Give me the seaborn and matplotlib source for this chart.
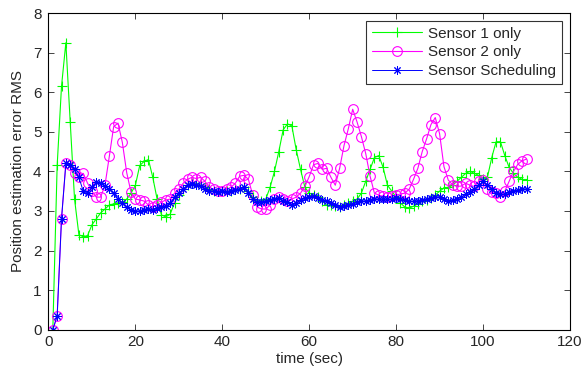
import numpy as np
import matplotlib
matplotlib.use('Agg')
import matplotlib.pyplot as plt
import seaborn as sns

# time axis (one sample per second)
time_sec = list(range(1, 111))

sensor1_only = [
    0.0, 4.15, 6.15, 7.25, 5.25, 3.3, 2.4, 2.35, 2.38, 2.65,
    2.8, 2.95, 3.05, 3.15, 3.18, 3.2, 3.22, 3.3, 3.45, 3.65,
    4.15, 4.25, 4.3, 3.85, 3.3, 2.9, 2.85, 2.92, 3.2, 3.4,
    3.55, 3.65, 3.7, 3.7, 3.65, 3.6, 3.55, 3.5, 3.5, 3.5,
    3.5, 3.5, 3.55, 3.55, 3.6, 3.5, 3.35, 3.25, 3.25, 3.3,
    3.6, 4.0, 4.5, 5.05, 5.2, 5.15, 4.55, 4.05, 3.6, 3.45,
    3.4, 3.35, 3.25, 3.15, 3.15, 3.12, 3.1, 3.15, 3.2, 3.25,
    3.3, 3.45, 3.75, 4.05, 4.35, 4.4, 4.1, 3.65, 3.5, 3.35,
    3.2, 3.1, 3.07, 3.12, 3.18, 3.25, 3.28, 3.32, 3.4, 3.5,
    3.58, 3.6, 3.65, 3.75, 3.85, 3.95, 4.0, 3.95, 3.9, 3.8,
    3.85, 4.35, 4.75, 4.75, 4.4, 4.1, 3.95, 3.85, 3.8, 3.78,
]

sensor2_only = [
    0.0, 0.35, 2.8, 4.2, 4.15, 3.95, 3.85, 3.95, 3.7, 3.5,
    3.35, 3.35, 3.65, 4.38, 5.13, 5.22, 4.73, 3.97, 3.47, 3.3,
    3.28, 3.25, 3.15, 3.1, 3.15, 3.22, 3.28, 3.3, 3.45, 3.55,
    3.7, 3.8, 3.85, 3.82, 3.85, 3.75, 3.6, 3.55, 3.5, 3.5,
    3.55, 3.6, 3.7, 3.88, 3.9, 3.8, 3.4, 3.1, 3.05, 3.05,
    3.15, 3.3, 3.35, 3.3, 3.25, 3.3, 3.35, 3.45, 3.62, 3.87,
    4.17, 4.2, 4.05, 4.08, 3.85, 3.65, 4.08, 4.65, 5.08, 5.57,
    5.25, 4.88, 4.45, 3.88, 3.45, 3.4, 3.37, 3.35, 3.38, 3.4,
    3.43, 3.45, 3.55, 3.8, 4.08, 4.5, 4.82, 5.18, 5.36, 4.95,
    4.12, 3.78, 3.66, 3.62, 3.63, 3.7, 3.65, 3.62, 3.75, 3.78,
    3.55, 3.48, 3.45, 3.35, 3.5, 3.75, 4.0, 4.18, 4.27, 4.31,
]

sensor_scheduling = [
    0.0, 0.35, 2.8, 4.2, 4.15, 4.05, 3.85, 3.5, 3.45, 3.6,
    3.72, 3.7, 3.62, 3.55, 3.45, 3.3, 3.2, 3.1, 3.02, 3.0,
    3.0, 3.02, 3.05, 3.02, 3.08, 3.1, 3.12, 3.2, 3.35, 3.45,
    3.55, 3.65, 3.68, 3.65, 3.62, 3.55, 3.5, 3.5, 3.48, 3.5,
    3.48, 3.5, 3.53, 3.55, 3.6, 3.45, 3.3, 3.22, 3.22, 3.25,
    3.28, 3.3, 3.32, 3.25, 3.22, 3.15, 3.2, 3.28, 3.32, 3.36,
    3.37, 3.33, 3.28, 3.24, 3.2, 3.14, 3.1, 3.12, 3.15, 3.18,
    3.22, 3.24, 3.26, 3.28, 3.3, 3.3, 3.3, 3.3, 3.3, 3.32,
    3.3, 3.28, 3.25, 3.24, 3.26, 3.28, 3.3, 3.32, 3.35, 3.36,
    3.3, 3.25, 3.27, 3.3, 3.35, 3.42, 3.48, 3.55, 3.65, 3.75,
    3.65, 3.55, 3.45, 3.42, 3.42, 3.48, 3.5, 3.52, 3.55, 3.56,
]

sns.set_style('white')
plt.rcParams['font.family'] = ['Liberation Sans', 'DejaVu Sans']

fig, ax = plt.subplots(figsize=(5.84, 3.73), dpi=100)
fig.subplots_adjust(left=0.083, right=0.976, top=0.965, bottom=0.116)

sns.lineplot(x=time_sec, y=sensor1_only, ax=ax, color='#00ff00', lw=0.8,
             marker='+', markersize=7, mew=0.8, mec='#00ff00',
             label='Sensor 1 only')
sns.lineplot(x=time_sec, y=sensor2_only, ax=ax, color='#ff00ff', lw=0.8,
             marker='o', markersize=7, mfc='none', mec='#ff00ff', mew=0.8,
             label='Sensor 2 only')
sns.lineplot(x=time_sec, y=sensor_scheduling, ax=ax, color='#0000ff', lw=0.7,
             marker=(8, 2, 0), markersize=6, mew=0.7, mec='#0000ff',
             label='Sensor Scheduling')

ax.set_xlim(0, 120)
ax.set_ylim(0, 8)
ax.set_xticks(range(0, 121, 20))
ax.set_yticks(range(0, 9))
ax.set_xlabel('time (sec)', fontsize=11, labelpad=2)
ax.set_ylabel('Position estimation error RMS', fontsize=11, labelpad=6)
ax.tick_params(direction='in', length=4, width=0.6, labelsize=11,
               top=True, right=True, bottom=True, left=True)
ax.tick_params(axis='x', pad=4)
ax.tick_params(axis='y', pad=5)
for sp in ax.spines.values():
    sp.set_color('black')
    sp.set_linewidth(0.8)

leg = ax.legend(loc='upper right', fontsize=11, frameon=True, fancybox=False,
                borderaxespad=0.5, handlelength=3.3, handletextpad=0.4,
                borderpad=0.4, labelspacing=0.3)
leg.get_frame().set_edgecolor('black')
leg.get_frame().set_linewidth(0.8)

fig.savefig('out.png', dpi=100)
